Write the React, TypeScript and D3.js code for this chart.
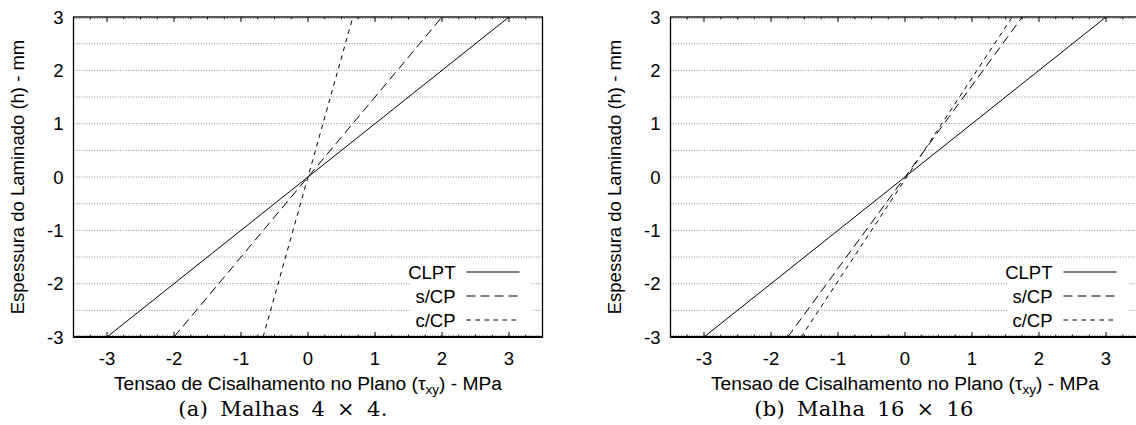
import React, { useEffect, useRef } from 'react';
import * as d3 from 'd3';

// espessura (h) nos extremos do laminado
const hValues = [-3, 3];

// tensao tau_xy nos extremos, painel (a) Malhas 4x4
const clptA = [-3, 3];
const semCPA = [-2, 2];
const comCPA = [-0.67, 0.67];

// painel (b) Malha 16x16
const clptB = [-3, 3];
const semCPB = [-1.75, 1.75];
const comCPB = [-1.55, 1.6];

const xTicks = [-3, -2, -1, 0, 1, 2, 3];
const yTicks = [-3, -2, -1, 0, 1, 2, 3];
const legendNames = ['CLPT', 's/CP', 'c/CP'];

const dashes = ['none', '9,5', '4.5,4.5'];
const sans = 'Liberation Sans, Arial, sans-serif';
const fs = '18.5px';

function drawPanel(svg: any, offsetX: number, series: number[][], caption: string, captionX: number) {
  const left = offsetX + 73.5;
  const top = 17;
  const width = 469;
  const height = 320;

  const x = d3.scaleLinear().domain([-3.5, 3.5]).range([left, left + width]);
  const y = d3.scaleLinear().domain([-3, 3]).range([top + height, top]);

  const g = svg.append('g');

  // grid horizontal pontilhado
  const gridVals = d3.range(-3, 3.01, 0.5);
  g.selectAll('line.grid')
    .data(gridVals)
    .enter()
    .append('line')
    .attr('class', 'grid')
    .attr('x1', left)
    .attr('x2', left + width)
    .attr('y1', (d: number) => y(d) + (d === 3 ? 1.5 : d === -3 ? -1.5 : 0))
    .attr('y2', (d: number) => y(d) + (d === 3 ? 1.5 : d === -3 ? -1.5 : 0))
    .attr('stroke', '#666')
    .attr('stroke-width', 0.8)
    .attr('stroke-dasharray', '1,1.6');

  // legenda: fundo branco
  const lgRight = left + width - 11;
  const lgLeft = lgRight - 121;
  g.append('rect')
    .attr('x', lgLeft)
    .attr('y', 260)
    .attr('width', 121)
    .attr('height', 74)
    .attr('fill', 'white');

  // curvas
  const line = d3.line<number>()
    .x((d) => x(d))
    .y((_, i) => y(hValues[i]));

  series.forEach((s, i) => {
    g.append('path')
      .datum(s)
      .attr('d', line)
      .attr('fill', 'none')
      .attr('stroke', 'black')
      .attr('stroke-width', 1)
      .attr('stroke-dasharray', dashes[i]);
  });

  // ticks eixo x (top e bottom)
  const minor = d3.range(-3.25, 3.3, 0.25).filter((v) => Math.abs(v - Math.round(v)) > 0.01);
  [top, top + height].forEach((yy, k) => {
    const dir = k === 0 ? 1 : -1;
    g.selectAll(null)
      .data(xTicks)
      .enter()
      .append('line')
      .attr('x1', (d: number) => x(d))
      .attr('x2', (d: number) => x(d))
      .attr('y1', yy)
      .attr('y2', yy + dir * 5)
      .attr('stroke', 'black')
      .attr('stroke-width', 1);
    g.selectAll(null)
      .data(minor)
      .enter()
      .append('line')
      .attr('x1', (d: number) => x(d))
      .attr('x2', (d: number) => x(d))
      .attr('y1', yy)
      .attr('y2', yy + dir * 2.5)
      .attr('stroke', 'black')
      .attr('stroke-width', 0.8);
  });

  // moldura
  g.append('rect')
    .attr('x', left)
    .attr('y', top)
    .attr('width', width)
    .attr('height', height)
    .attr('fill', 'none')
    .attr('stroke', 'black')
    .attr('stroke-width', 1.3);
  g.append('line')
    .attr('x1', left)
    .attr('x2', left + width)
    .attr('y1', top + height)
    .attr('y2', top + height)
    .attr('stroke', 'black')
    .attr('stroke-width', 2);

  // rotulos eixo y
  g.selectAll('text.ytick')
    .data(yTicks)
    .enter()
    .append('text')
    .attr('class', 'ytick')
    .attr('x', left - 10)
    .attr('y', (d: number) => y(d) + 6.5)
    .attr('text-anchor', 'end')
    .style('font-family', sans)
    .style('font-size', fs)
    .text((d: number) => d);

  // rotulos eixo x
  g.selectAll('text.xtick')
    .data(xTicks)
    .enter()
    .append('text')
    .attr('class', 'xtick')
    .attr('x', (d: number) => x(d))
    .attr('y', 365)
    .attr('text-anchor', 'middle')
    .style('font-family', sans)
    .style('font-size', fs)
    .text((d: number) => d);

  // titulo y
  g.append('text')
    .attr('transform', `translate(${offsetX + 24},${top + height / 2}) rotate(-90)`)
    .attr('text-anchor', 'middle')
    .style('font-family', sans)
    .style('font-size', fs)
    .text('Espessura do Laminado (h) - mm');

  // titulo x
  const xt = g.append('text')
    .attr('x', x(0))
    .attr('y', 390)
    .attr('text-anchor', 'middle')
    .style('font-family', sans)
    .style('font-size', '19.2px');
  xt.append('tspan').text('Tensao de Cisalhamento no Plano (τ');
  xt.append('tspan').attr('dy', 4).style('font-size', '13.5px').text('xy');
  xt.append('tspan').attr('dy', -4).text(') - MPa');

  // legenda
  legendNames.forEach((name, i) => {
    const yy = 272 + i * 24;
    g.append('text')
      .attr('x', lgLeft + 45)
      .attr('y', yy + 6.5)
      .attr('text-anchor', 'end')
      .style('font-family', sans)
      .style('font-size', fs)
      .text(name);
    g.append('line')
      .attr('x1', lgLeft + 56)
      .attr('x2', lgLeft + 109)
      .attr('y1', yy)
      .attr('y2', yy)
      .attr('stroke', 'black')
      .attr('stroke-width', 1)
      .attr('stroke-dasharray', dashes[i]);
  });

  // legenda da figura
  g.append('text')
    .attr('x', captionX)
    .attr('y', 416)
    .attr('text-anchor', 'middle')
    .style('font-family', 'DejaVu Serif, serif')
    .style('font-size', '21px')
    .style('letter-spacing', '0.3px')
    .style('word-spacing', '5px')
    .text(caption);
}

export default function App() {
  const ref = useRef<SVGSVGElement>(null);

  useEffect(() => {
    const svg = d3.select(ref.current);
    svg.selectAll('*').remove();
    svg.append('rect').attr('width', 1136).attr('height', 425).attr('fill', 'white');
    drawPanel(svg, 0, [clptA, semCPA, comCPA], '(a) Malhas 4 × 4.', 283);
    drawPanel(svg, 597, [clptB, semCPB, comCPB], '(b) Malha 16 × 16', 864);
  }, []);

  return (
    <svg
      ref={ref}
      width={1136}
      height={425}
      style={{ position: 'absolute', left: 0, top: 0 }}
    />
  );
}
